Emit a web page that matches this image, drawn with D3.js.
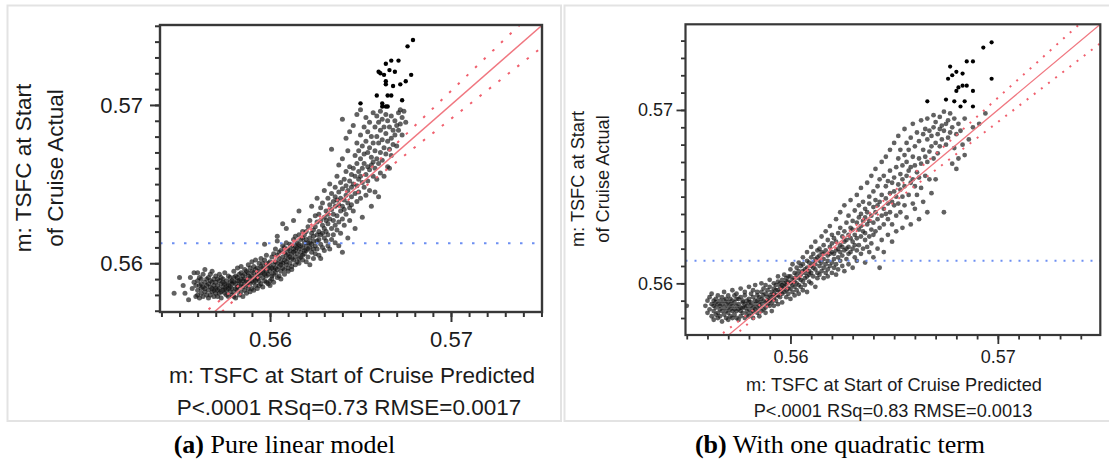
<!DOCTYPE html>
<html><head><meta charset="utf-8">
<script src="https://cdn.jsdelivr.net/npm/d3@7"></script>
<style>body{margin:0;background:#fff}svg{display:block}</style>
</head><body><svg id="c" width="1109" height="462"></svg>
<script>
// ---------- data ----------
const majorTicks = [0.56, 0.57];
const xTitle = "m: TSFC at Start of Cruise Predicted";
const yTitleLines = ["m: TSFC at Start", "of Cruise Actual"];
const statsA = "P<.0001 RSq=0.73 RMSE=0.0017";
const statsB = "P<.0001 RSq=0.83 RMSE=0.0013";
const captionA = ["(a)", " Pure linear model"];
const captionB = ["(b)", " With one quadratic term"];
const meanA = 0.56126, meanB = 0.5613;
// confidence band (half width around y = x), read at these predicted values
const bandX = [.5540,.5560,.5580,.5600,.5613,.5625,.5650,.5675,.5700,.5725,.5750];
const bandHalfA = [.00074,.00054,.00035,.00018,.00012,.00017,.00039,.00063,.00088,.00113,.00138];
const bandHalfB = [.00059,.00044,.00028,.00014,.00010,.00014,.00031,.00050,.00070,.00090,.00110];
// columns: [predicted, actual, actual, ...]
const colsA = [
[.5547,.5581],[.5550,.5591],[.5552,.5586],[.5553,.5581],[.5555,.5577],[.5556,.5591],[.5557,.5584],[.5558,.5588,.5594],[.5559,.5579,.5586],
[.5560,.5583,.5589,.5580,.5594],[.5561,.5586,.5578,.5591],[.5562,.5584,.5590,.5581,.5587],[.5563,.5593,.5579,.5585],
[.5564,.5588,.5582,.5596,.5584],[.5565,.5580,.5590,.5586],[.5566,.5583,.5591,.5578,.5587],[.5567,.5585,.5580,.5593,.5589],
[.5568,.5582,.5588,.5595,.5584],[.5569,.5579,.5586,.5590,.5583],[.5570,.5588,.5584,.5581,.5592],[.5571,.5586,.5579,.5590,.5583],
[.5572,.5584,.5589,.5593,.5581],[.5573,.5587,.5582,.5578,.5591],[.5574,.5585,.5590,.5583,.5588],[.5575,.5581,.5587,.5594,.5584],
[.5576,.5589,.5583,.5580,.5586],[.5577,.5586,.5592,.5584,.5579],[.5578,.5582,.5588,.5591,.5585],[.5579,.5587,.5580,.5589,.5584],
[.5580,.5588,.5582,.5595,.5579,.5591],[.5581,.5584,.5592,.5578,.5587],[.5582,.5591,.5585,.5597,.5583,.5589],[.5583,.5586,.5580,.5593,.5589],
[.5584,.5590,.5594,.5582,.5587,.5598],[.5585,.5585,.5592,.5579,.5589],[.5586,.5593,.5587,.5583,.5596,.5590],[.5587,.5581,.5589,.5595,.5586],
[.5588,.5592,.5584,.5599,.5588,.5594],[.5589,.5587,.5597,.5582,.5591],[.5590,.5595,.5589,.5584,.5601,.5592],[.5591,.5588,.5594,.5598,.5583],
[.5592,.5591,.5586,.5596,.5602,.5589],[.5593,.5597,.5584,.5593,.5590],[.5594,.5589,.5595,.5600,.5586,.5592],[.5595,.5594,.5598,.5587,.5603],
[.5596,.5591,.5597,.5585,.5600,.5594],[.5597,.5596,.5589,.5602,.5593,.5612],[.5598,.5599,.5592,.5605,.5588,.5595],[.5599,.5593,.5600,.5597,.5587],
[.5600,.5595,.5589,.5601,.5586,.5598],[.5601,.5592,.5604,.5597,.5590],[.5602,.5599,.5593,.5606,.5588,.5596],[.5603,.5594,.5601,.5597,.5609],
[.5604,.5600,.5591,.5605,.5596,.5614,.5617],[.5605,.5598,.5603,.5592,.5607],[.5606,.5601,.5595,.5608,.5590,.5599],[.5607,.5604,.5597,.5611,.5600,.5625],
[.5608,.5602,.5596,.5607,.5593,.5610],[.5609,.5599,.5605,.5613,.5601,.5622],[.5610,.5603,.5597,.5609,.5595,.5606],[.5611,.5600,.5608,.5612,.5604],
[.5612,.5606,.5598,.5611,.5596,.5603],[.5613,.5609,.5602,.5615,.5607,.5627],[.5614,.5604,.5611,.5599,.5617,.5608],[.5615,.5606,.5613,.5601,.5610],
[.5616,.5612,.5603,.5609,.5618,.5600,.5633],[.5617,.5607,.5615,.5611,.5604],[.5618,.5610,.5605,.5616,.5620,.5602],[.5619,.5613,.5608,.5618,.5606],
[.5620,.5608,.5615,.5601,.5620,.5611],[.5621,.5604,.5613,.5623,.5609],[.5622,.5616,.5599,.5610,.5627,.5613],[.5623,.5607,.5619,.5612,.5636],
[.5624,.5614,.5603,.5621,.5609,.5617],[.5625,.5623,.5611,.5630,.5606],[.5626,.5609,.5618,.5626,.5614,.5641],[.5627,.5620,.5605,.5615,.5631],
[.5628,.5612,.5627,.5618,.5635,.5603],[.5629,.5624,.5610,.5638,.5619],[.5630,.5616,.5629,.5608,.5622,.5646],[.5631,.5633,.5620,.5614,.5627],
[.5632,.5611,.5625,.5641,.5618,.5631],[.5633,.5628,.5637,.5609,.5650],[.5634,.5622,.5634,.5615,.5644,.5672],[.5635,.5639,.5627,.5631,.5618],
[.5636,.5613,.5636,.5648,.5624,.5642],[.5637,.5630,.5655,.5621,.5640],[.5638,.5645,.5626,.5637,.5611,.5662],[.5639,.5633,.5619,.5651,.5641],
[.5640,.5628,.5647,.5636,.5607,.5666,.5691],[.5641,.5640,.5624,.5653,.5634],[.5642,.5649,.5631,.5658,.5643,.5679],[.5643,.5616,.5638,.5646,.5671],
[.5644,.5652,.5635,.5627,.5661,.5683],[.5645,.5642,.5656,.5648,.5637],[.5646,.5633,.5660,.5650,.5687],[.5647,.5655,.5644,.5668,.5622],
[.5648,.5649,.5663,.5639,.5676,.5694],[.5649,.5658,.5645,.5671,.5653],[.5650,.5666,.5641,.5655,.5681,.5697],[.5651,.5629,.5660,.5651,.5674],
[.5652,.5663,.5648,.5686,.5669],[.5653,.5656,.5677,.5643,.5692],[.5654,.5670,.5652,.5661,.5683],[.5655,.5659,.5673,.5646,.5689],
[.5656,.5667,.5636,.5680,.5662],[.5657,.5655,.5676,.5695,.5664],[.5658,.5671,.5660,.5645,.5686],[.5659,.5680,.5666,.5693,.5653],
[.5660,.5663,.5676,.5642,.5689],[.5661,.5670,.5684,.5657,.5696],[.5662,.5678,.5665,.5691],[.5663,.5673,.5655,.5686],
[.5664,.5682,.5669,.5694],[.5665,.5661,.5677,.5690],[.5666,.5686,.5672,.5660],[.5667,.5679,.5693,.5668],
[.5668,.5684,.5675],[.5669,.5690,.5681],[.5670,.5674,.5687],[.5671,.5684,.5695],[.5672,.5697,.5688],[.5673,.5681,.5692],[.5674,.5696],[.5675,.5689]
];
const highA = [[.5650,.5701],[.5659,.5706],[.5660,.5721],[.5661,.5720],[.5663,.5719],[.5664,.5726],[.5666,.5722],[.5669,.5721],[.5667,.5728],
[.5671,.5728],[.5676,.5737],[.5679,.5741],[.5678,.5719],[.5675,.5715],[.5672,.5713],[.5668,.5712],[.5664,.5713],[.5664,.5715],[.5662,.5701],
[.5664,.5699],[.5665,.5699],[.5667,.5706],[.5665,.5706],[.5673,.5703],[.5662,.5699]];
const colsB = [
[.5550,.5587],[.5559,.5587],[.5560,.5590,.5583],[.5561,.5585,.5592],[.5562,.5588,.5581,.5594],[.5563,.5584,.5590,.5579,.5587],
[.5564,.5591,.5586,.5582,.5589],[.5565,.5583,.5588,.5593,.5580],[.5566,.5587,.5581,.5590,.5585],[.5567,.5592,.5584,.5578,.5588],
[.5568,.5586,.5590,.5582,.5595],[.5569,.5580,.5588,.5584,.5591],[.5570,.5589,.5583,.5593,.5586,.5579],[.5571,.5585,.5591,.5581,.5588],
[.5572,.5590,.5584,.5587,.5596,.5580],[.5573,.5582,.5589,.5593,.5585],[.5574,.5587,.5580,.5591,.5584,.5594],[.5575,.5591,.5585,.5588,.5579],
[.5576,.5584,.5592,.5586,.5597,.5581],[.5577,.5589,.5583,.5590,.5586],[.5578,.5586,.5593,.5580,.5588,.5595],[.5579,.5582,.5590,.5587,.5584],
[.5580,.5591,.5585,.5589,.5598,.5581],[.5581,.5587,.5583,.5594,.5589],[.5582,.5584,.5592,.5586,.5596,.5580],[.5583,.5590,.5585,.5588,.5599],
[.5584,.5586,.5593,.5583,.5590,.5595],[.5585,.5592,.5587,.5581,.5589],[.5586,.5588,.5595,.5584,.5591,.5600],[.5587,.5585,.5590,.5597,.5593],
[.5588,.5594,.5589,.5586,.5599,.5583],[.5589,.5590,.5596,.5588,.5592],[.5590,.5587,.5593,.5598,.5590,.5602],[.5591,.5595,.5589,.5592,.5584],
[.5592,.5591,.5597,.5594,.5600,.5587],[.5593,.5596,.5590,.5599,.5593],[.5594,.5593,.5601,.5588,.5596,.5604],[.5595,.5598,.5592,.5595,.5600],
[.5596,.5594,.5602,.5597,.5589,.5599],[.5597,.5600,.5595,.5598,.5605],[.5598,.5596,.5603,.5599,.5592,.5601],[.5599,.5601,.5597,.5604,.5594],
[.5600,.5597,.5604,.5591,.5600,.5608],[.5601,.5602,.5595,.5611,.5599],[.5602,.5606,.5598,.5593,.5603,.5601],[.5603,.5600,.5609,.5596,.5605],
[.5604,.5594,.5603,.5607,.5612,.5599],[.5605,.5605,.5598,.5610,.5602],[.5606,.5611,.5601,.5596,.5607,.5615],[.5607,.5603,.5608,.5599,.5606],
[.5608,.5609,.5595,.5613,.5604,.5618],[.5609,.5601,.5607,.5612,.5605],[.5610,.5606,.5615,.5600,.5610,.5621],[.5611,.5612,.5604,.5609,.5617],
[.5612,.5598,.5608,.5614,.5611,.5624],[.5613,.5615,.5606,.5619,.5603],[.5614,.5610,.5620,.5605,.5613,.5616],[.5615,.5607,.5618,.5612,.5627],
[.5616,.5614,.5603,.5622,.5609,.5617],[.5617,.5619,.5611,.5606,.5630],[.5618,.5608,.5616,.5625,.5613,.5604],[.5619,.5621,.5610,.5617,.5633],
[.5620,.5612,.5623,.5606,.5618,.5628],[.5621,.5617,.5609,.5626,.5614],[.5622,.5624,.5611,.5619,.5637,.5605],[.5623,.5608,.5620,.5629,.5615],
[.5624,.5622,.5613,.5632,.5618,.5641],[.5625,.5616,.5627,.5610,.5621],[.5626,.5630,.5619,.5607,.5624,.5645],[.5627,.5614,.5625,.5635,.5620],
[.5628,.5621,.5639,.5611,.5628,.5617],[.5629,.5632,.5618,.5626,.5648],[.5630,.5609,.5624,.5636,.5620,.5631],[.5631,.5628,.5642,.5615,.5622],
[.5632,.5635,.5619,.5651,.5626,.5613],[.5633,.5622,.5631,.5638,.5645],[.5634,.5617,.5640,.5627,.5633,.5655],[.5635,.5630,.5620,.5647,.5636],
[.5636,.5643,.5625,.5612,.5638,.5629],[.5637,.5634,.5658,.5621,.5641],[.5638,.5627,.5646,.5636,.5618,.5650],[.5639,.5639,.5631,.5662,.5623],
[.5640,.5644,.5615,.5635,.5653,.5628],[.5641,.5630,.5648,.5641,.5666],[.5642,.5620,.5637,.5656,.5645],[.5643,.5609,.5647,.5632,.5660],
[.5644,.5639,.5651,.5625,.5670],[.5645,.5643,.5662,.5634,.5618],[.5646,.5656,.5640,.5673,.5649],[.5647,.5628,.5646,.5659,.5637],
[.5648,.5652,.5641,.5677,.5665],[.5649,.5634,.5658,.5647,.5624],[.5650,.5661,.5645,.5681,.5653],[.5651,.5639,.5667,.5650,.5630],
[.5652,.5657,.5672,.5646,.5685],[.5653,.5663,.5641,.5677,.5654],[.5654,.5650,.5668,.5632,.5660],[.5655,.5674,.5656,.5689,.5645],
[.5656,.5662,.5638,.5670,.5681],[.5657,.5651,.5677,.5665],[.5658,.5667,.5634,.5684,.5658],[.5659,.5673,.5660,.5692,.5646],
[.5660,.5656,.5679,.5668,.5643],[.5661,.5687,.5664,.5651],[.5662,.5672,.5637,.5682,.5661],[.5663,.5669,.5694,.5655],
[.5664,.5677,.5647,.5686],[.5665,.5662,.5689,.5673],[.5666,.5683,.5641,.5670,.5695],[.5667,.5676,.5660,.5688],
[.5668,.5652,.5685,.5679],[.5669,.5690,.5672,.5697],[.5670,.5681,.5660,.5693],[.5671,.5686,.5675],
[.5672,.5696,.5679,.5689],[.5673,.5683,.5691],[.5674,.5641,.5688,.5699],[.5675,.5680,.5692],[.5676,.5694,.5684],[.5677,.5687,.5698],
[.5678,.5669,.5690],[.5679,.5678,.5695],[.5680,.5666,.5686],[.5681,.5692,.5672],[.5682,.5688],[.5683,.5680],[.5684,.5695,.5674],
[.5686,.5683],[.5688,.5690],[.5691,.5692],[.5694,.5698]
];
const highB = [[.5666,.5705],[.5675,.5706],[.5679,.5705],[.5684,.5705],[.5682,.5702],[.5688,.5702],[.5685,.5714],[.5683,.5714],[.5688,.5711],
[.5680,.5711],[.5681,.5713],[.5676,.5718],[.5678,.5720],[.5680,.5722],[.5683,.5721],[.5677,.5725],[.5685,.5728],[.5688,.5728],
[.5693,.5736],[.5697,.5739],[.5697,.5718]];

// ---------- drawing ----------
const SANS = "'Liberation Sans', Arial, sans-serif";
const SERIF = "'Liberation Serif', 'Times New Roman', serif";
const INK = "#1b1b1b";
const svg = d3.select("#c");
svg.append("rect").attr("width", 1109).attr("height", 462).attr("fill", "#fff");
const defs = svg.append("defs");
defs.append("filter").attr("id", "soft").append("feGaussianBlur").attr("stdDeviation", 0.45);
svg.append("rect").attr("x", 7.5).attr("y", 5.5).attr("width", 553.5).attr("height", 415.5)
  .attr("fill", "none").attr("stroke", "#e3e3e3").attr("stroke-width", 2);
svg.append("rect").attr("x", 564.5).attr("y", 5.5).attr("width", 560).attr("height", 415.5)
  .attr("fill", "none").attr("stroke", "#e3e3e3").attr("stroke-width", 2);

const panels = [
  {id:"a", l:160, r:542, t:25, b:312, xDom:[0.55392,0.57503], yDom:[0.55692,0.57505],
   cols:colsA, high:highA, mean:meanA, band:bandHalfA, stats:statsA,
   fs:22, lfs:22.5, pr:2.5, hr:2.2, frameW:2.4, major:10, minor:5, tickW:2,
   xLabOff:35, yLabOff:17, xTitlePos:[352,383], statPos:[349,415], yTitleX:[31,63], yTitleCy:168,
   dash:"2.5,9.5", swL:1.5},
  {id:"b", l:685.5, r:1100.3, t:24.3, b:335, xDom:[0.55494,0.57494], yDom:[0.55702,0.57494],
   cols:colsB, high:highB, mean:meanB, band:bandHalfB, stats:statsB,
   fs:18, lfs:18.2, pr:2.4, hr:2.1, frameW:2.2, major:9, minor:4.5, tickW:1.8,
   xLabOff:28, yLabOff:12.5, xTitlePos:[894,391], statPos:[893,417], yTitleX:[584,609], yTitleCy:179,
   dash:"2,7", swL:1.3}
];

const fmt = d3.format(".2f");
panels.forEach(cfg => {
  const g = svg.append("g");
  const x = d3.scaleLinear().domain(cfg.xDom).range([cfg.l, cfg.r]);
  const y = d3.scaleLinear().domain(cfg.yDom).range([cfg.b, cfg.t]);
  const cid = "clip-" + cfg.id;
  defs.append("clipPath").attr("id", cid).append("rect")
    .attr("x", cfg.l).attr("y", cfg.t).attr("width", cfg.r - cfg.l).attr("height", cfg.b - cfg.t);
  const pg = g.append("g").attr("clip-path", `url(#${cid})`);

  const pts = cfg.cols.flatMap(c => c.slice(1).map(v => [c[0], v]));
  pg.append("g").attr("filter", "url(#soft)").selectAll("circle").data(pts).join("circle")
    .attr("cx", d => x(d[0])).attr("cy", d => y(d[1])).attr("r", cfg.pr)
    .attr("fill", "#0a0a0a").attr("fill-opacity", 0.62);

  // mean (horizontal) line
  pg.append("line").attr("x1", cfg.l).attr("x2", cfg.r)
    .attr("y1", y(cfg.mean)).attr("y2", y(cfg.mean))
    .attr("stroke", "#6d8ff2").attr("stroke-width", 2).attr("stroke-dasharray", cfg.dash);
  // fit line y = x
  const lo = Math.min(cfg.xDom[0], cfg.yDom[0]), hi = Math.max(cfg.xDom[1], cfg.yDom[1]);
  pg.append("line").attr("x1", x(lo)).attr("y1", y(lo)).attr("x2", x(hi)).attr("y2", y(hi))
    .attr("stroke", "#f07780").attr("stroke-width", cfg.swL);
  // confidence bands
  const ln = d3.line().x(d => x(d[0])).y(d => y(d[1])).curve(d3.curveMonotoneX);
  [1, -1].forEach(s => {
    pg.append("path").attr("d", ln(bandX.map((bx, i) => [bx, bx + s * cfg.band[i]])))
      .attr("fill", "none").attr("stroke", "#f0606e").attr("stroke-width", 2)
      .attr("stroke-dasharray", cfg.dash);
  });
  // high (opaque) points
  pg.append("g").attr("filter", "url(#soft)").selectAll("circle").data(cfg.high).join("circle")
    .attr("cx", d => x(d[0])).attr("cy", d => y(d[1])).attr("r", cfg.hr).attr("fill", "#000");

  // axes
  const styleAxis = sel => {
    sel.select(".domain").remove();
    sel.selectAll(".tick line").attr("stroke", "#333").attr("stroke-width", cfg.tickW);
  };
  g.append("g").attr("transform", `translate(0,${cfg.b})`)
    .call(d3.axisBottom(x).tickValues(x.ticks(20)).tickSize(cfg.minor).tickFormat(""))
    .call(styleAxis);
  g.append("g").attr("transform", `translate(${cfg.l},0)`)
    .call(d3.axisLeft(y).tickValues(y.ticks(20)).tickSize(cfg.minor).tickFormat(""))
    .call(styleAxis);
  const xb = g.append("g").attr("transform", `translate(0,${cfg.b})`)
    .call(d3.axisBottom(x).tickValues(majorTicks).tickSize(cfg.major).tickFormat(fmt))
    .call(styleAxis);
  xb.selectAll("text").attr("y", cfg.xLabOff).attr("dy", 0)
    .attr("font-family", SANS).attr("font-size", cfg.fs).attr("fill", INK);
  const yb = g.append("g").attr("transform", `translate(${cfg.l},0)`)
    .call(d3.axisLeft(y).tickValues(majorTicks).tickSize(cfg.major).tickFormat(fmt))
    .call(styleAxis);
  yb.selectAll("text").attr("x", -cfg.yLabOff).attr("dy", "0.33em")
    .attr("font-family", SANS).attr("font-size", cfg.fs).attr("fill", INK);

  // plot frame
  g.append("rect").attr("x", cfg.l).attr("y", cfg.t).attr("width", cfg.r - cfg.l).attr("height", cfg.b - cfg.t)
    .attr("fill", "none").attr("stroke", "#383838").attr("stroke-width", cfg.frameW);

  // titles
  g.append("text").attr("x", cfg.xTitlePos[0]).attr("y", cfg.xTitlePos[1]).attr("text-anchor", "middle")
    .attr("font-family", SANS).attr("font-size", cfg.lfs).attr("fill", INK).text(xTitle);
  g.append("text").attr("x", cfg.statPos[0]).attr("y", cfg.statPos[1]).attr("text-anchor", "middle")
    .attr("font-family", SANS).attr("font-size", cfg.lfs).attr("fill", INK).text(cfg.stats);
  yTitleLines.forEach((t, i) => {
    g.append("text").attr("transform", `translate(${cfg.yTitleX[i]},${cfg.yTitleCy}) rotate(-90)`)
      .attr("text-anchor", "middle").attr("font-family", SANS).attr("font-size", cfg.lfs)
      .attr("fill", INK).text(t);
  });
});

// captions
[[captionA, 284.5], [captionB, 840]].forEach(([cap, cx]) => {
  const t = svg.append("text").attr("x", cx).attr("y", 453).attr("text-anchor", "middle")
    .attr("font-family", SERIF).attr("font-size", 26).attr("fill", "#000");
  t.append("tspan").attr("font-weight", "bold").text(cap[0]);
  t.append("tspan").text(cap[1]);
});
</script></body></html>
